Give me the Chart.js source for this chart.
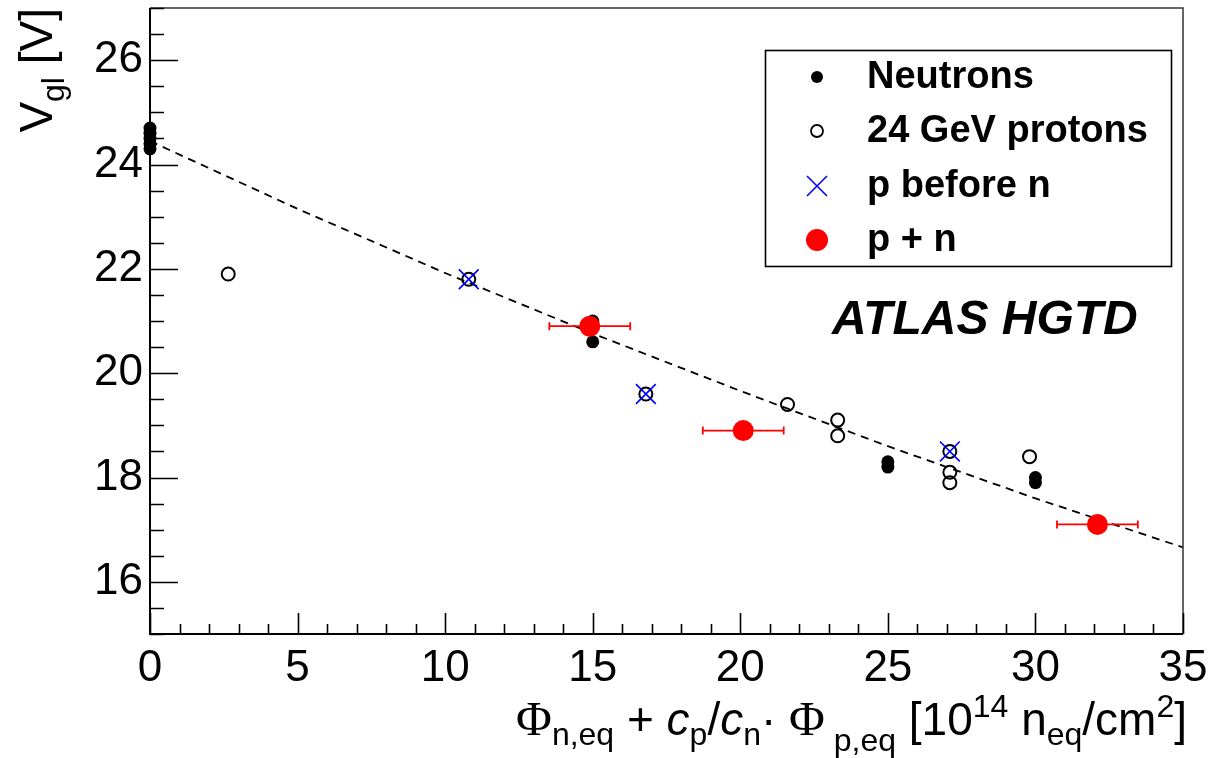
<!DOCTYPE html>
<html>
<head>
<meta charset="utf-8">
<script src="https://cdn.jsdelivr.net/npm/chart.js@4.4.1/dist/chart.umd.min.js"></script>
<style>
  html, body { margin: 0; padding: 0; background: #fff; }
  #wrap { width: 1215px; height: 758px; }
</style>
</head>
<body>
<div id="wrap"><canvas id="vglChart" width="1215" height="758"></canvas></div>
<script>
// Neutrons (filled black)
const neutronX = [0, 0, 0, 0, 0, 15, 15, 25, 25, 30, 30];
const neutronY = [24.3, 24.4, 24.5, 24.6, 24.7, 21.0, 20.6, 18.3, 18.2, 18.0, 17.9];
// 24 GeV protons (open circles)
const protonX = [2.65, 10.8, 16.8, 21.6, 23.3, 23.3, 27.1, 27.1, 27.1, 29.8];
const protonY = [21.9, 21.8, 19.6, 19.4, 19.1, 18.8, 18.5, 18.1, 17.9, 18.4];
// p before n (blue crosses)
const pBeforeNX = [10.8, 16.8, 27.1];
const pBeforeNY = [21.8, 19.6, 18.5];
// p + n (red, with x errors)
const pnX = [14.9, 20.1, 32.1];
const pnY = [20.9, 18.9, 17.1];
const pnXErr = [1.37, 1.37, 1.37];
// dashed fit curve
const fitX = [0, 5, 10, 15, 20, 25, 30, 35];
const fitY = [24.45, 23.15, 21.92, 20.76, 19.66, 18.6, 17.6, 16.66];
// tick labels
const xTicks = [0, 5, 10, 15, 20, 25, 30, 35];
const yTicks = [16, 18, 20, 22, 24, 26];

const SANS = '"Liberation Sans", Arial, Helvetica, sans-serif';
const SERIF = '"Liberation Serif", "Times New Roman", serif';

const toPoints = (xs, ys) => xs.map((x, i) => ({ x: x, y: ys[i] }));

// draws a run of text pieces with sub/superscripts
function drawRich(ctx, parts, x, y, align) {
    let total = 0;
    parts.forEach(p => {
        ctx.font = (p.style || '') + ' ' + p.size + 'px ' + (p.family || SANS);
        p.w = ctx.measureText(p.t).width;
        total += p.w;
    });
    let cx = align === 'right' ? x - total : x;
    parts.forEach(p => {
        ctx.font = (p.style || '') + ' ' + p.size + 'px ' + (p.family || SANS);
        ctx.fillText(p.t, cx, y + (p.dy || 0));
        cx += p.w;
    });
}

const frameAndTicks = {
    id: 'frameAndTicks',
    afterDraw(chart) {
        const { ctx, chartArea: a, scales } = chart;
        const xs = scales.x, ys = scales.y;
        ctx.save();
        // frame
        ctx.strokeStyle = '#333';
        ctx.lineWidth = 1.5;
        ctx.beginPath();
        ctx.moveTo(a.left, a.top);
        ctx.lineTo(a.right, a.top);
        ctx.lineTo(a.right, a.bottom);
        ctx.stroke();
        ctx.strokeStyle = '#000';
        ctx.lineWidth = 2;
        ctx.beginPath();
        ctx.moveTo(a.left, a.top);
        ctx.lineTo(a.left, a.bottom);
        ctx.lineTo(a.right, a.bottom);
        ctx.stroke();

        // inward ticks
        ctx.lineWidth = 1.6;
        ctx.beginPath();
        for (let v = xs.min; v <= xs.max + 1e-9; v += 1) {
            const px = Math.round(xs.getPixelForValue(v)) + 0.5;
            const len = v % 5 === 0 ? 21 : 10;
            ctx.moveTo(px, a.bottom);
            ctx.lineTo(px, a.bottom - len);
        }
        for (let v = ys.min; v <= ys.max + 1e-9; v += 0.5) {
            const py = Math.round(ys.getPixelForValue(v)) + 0.5;
            const len = yTicks.includes(v) ? 28 : 14;
            ctx.moveTo(a.left, py);
            ctx.lineTo(a.left + len, py);
        }
        ctx.stroke();

        // axis titles
        ctx.fillStyle = '#000';
        ctx.textBaseline = 'alphabetic';
        const M = 46, S = 32;
        drawRich(ctx, [
            { t: '\u03A6', size: M + 3, family: SERIF },
            { t: 'n,eq', size: S, dy: 10 },
            { t: ' + ', size: M },
            { t: 'c', size: M, style: 'italic' },
            { t: 'p', size: S, dy: 10 },
            { t: '/', size: M },
            { t: 'c', size: M, style: 'italic' },
            { t: 'n', size: S, dy: 10 },
            { t: '\u00B7 ', size: M },
            { t: '\u03A6', size: M + 3, family: SERIF },
            { t: ' p,eq', size: S, dy: 16 },
            { t: ' [10', size: M },
            { t: '14', size: S, dy: -18 },
            { t: ' n', size: M },
            { t: 'eq', size: S, dy: 10 },
            { t: '/cm', size: M },
            { t: '2', size: S, dy: -18 },
            { t: ']', size: M }
        ], 1187, 735, 'right');

        ctx.translate(52, 8);
        ctx.rotate(-Math.PI / 2);
        drawRich(ctx, [
            { t: 'V', size: 46 },
            { t: 'gl', size: 32, dy: 12 },
            { t: ' [V]', size: 46 }
        ], 0, 0, 'right');
        ctx.restore();

        // experiment label
        ctx.save();
        ctx.fillStyle = '#000';
        ctx.font = 'italic bold 48px ' + SANS;
        ctx.fillText('ATLAS HGTD', 832, 334);
        ctx.restore();

        // legend box
        ctx.save();
        ctx.strokeStyle = '#000';
        ctx.lineWidth = 1.6;
        ctx.strokeRect(765.5, 50.5, 406, 216);
        const rows = [
            { label: 'Neutrons', y: 77 },
            { label: '24 GeV protons', y: 131 },
            { label: 'p before n', y: 186 },
            { label: 'p + n', y: 240 }
        ];
        const mx = 817;
        // neutron dot
        ctx.fillStyle = '#000';
        ctx.beginPath(); ctx.arc(mx, rows[0].y, 6, 0, Math.PI * 2); ctx.fill();
        // open circle
        ctx.lineWidth = 1.8;
        ctx.beginPath(); ctx.arc(mx, rows[1].y, 6, 0, Math.PI * 2); ctx.stroke();
        // blue cross
        ctx.strokeStyle = '#0000ff';
        ctx.lineWidth = 1.6;
        ctx.beginPath();
        ctx.moveTo(mx - 10, rows[2].y - 10); ctx.lineTo(mx + 10, rows[2].y + 10);
        ctx.moveTo(mx - 10, rows[2].y + 10); ctx.lineTo(mx + 10, rows[2].y - 10);
        ctx.stroke();
        // red dot
        ctx.fillStyle = '#ff0000';
        ctx.beginPath(); ctx.arc(mx, rows[3].y, 11, 0, Math.PI * 2); ctx.fill();

        ctx.fillStyle = '#000';
        ctx.font = 'bold 38px ' + SANS;
        ctx.textBaseline = 'middle';
        rows.forEach(r => ctx.fillText(r.label, 867, r.y + 1));
        ctx.restore();
    }
};

const errorBars = {
    id: 'errorBars',
    beforeDatasetDraw(chart, args) {
        if (args.index !== 0) return;
        const { ctx, scales } = chart;
        ctx.save();
        ctx.strokeStyle = '#ff0000';
        ctx.lineWidth = 1.8;
        ctx.beginPath();
        pnX.forEach((x, i) => {
            const py = scales.y.getPixelForValue(pnY[i]);
            const x0 = scales.x.getPixelForValue(x - pnXErr[i]);
            const x1 = scales.x.getPixelForValue(x + pnXErr[i]);
            ctx.moveTo(x0, py); ctx.lineTo(x1, py);
            ctx.moveTo(x0, py - 4); ctx.lineTo(x0, py + 4);
            ctx.moveTo(x1, py - 4); ctx.lineTo(x1, py + 4);
        });
        ctx.stroke();
        ctx.restore();
    }
};

const ctx = document.getElementById('vglChart').getContext('2d');

new Chart(ctx, {
    type: 'scatter',
    data: {
        datasets: [
            {
                label: 'p + n',
                data: toPoints(pnX, pnY),
                pointStyle: 'circle',
                pointRadius: 10.5,
                backgroundColor: '#ff0000',
                borderWidth: 0
            },
            {
                label: 'p before n',
                data: toPoints(pBeforeNX, pBeforeNY),
                pointStyle: 'crossRot',
                pointRadius: 14,
                borderColor: '#0000ff',
                borderWidth: 1.6
            },
            {
                label: '24 GeV protons',
                data: toPoints(protonX, protonY),
                pointStyle: 'circle',
                pointRadius: 6.5,
                backgroundColor: 'rgba(0,0,0,0)',
                borderColor: '#000',
                borderWidth: 2
            },
            {
                label: 'Neutrons',
                data: toPoints(neutronX, neutronY),
                pointStyle: 'circle',
                pointRadius: 6.5,
                backgroundColor: '#000',
                borderWidth: 0,
                clip: false
            },
            {
                label: 'fit',
                data: toPoints(fitX, fitY),
                showLine: true,
                pointRadius: 0,
                borderColor: '#000',
                borderWidth: 1.8,
                borderDash: [8, 6],
                tension: 0,
                clip: false
            }
        ]
    },
    options: {
        responsive: false,
        animation: false,
        events: [],
        layout: { autoPadding: false, padding: { top: 8, right: 32, left: 0, bottom: 0 } },
        plugins: {
            legend: { display: false },
            tooltip: { enabled: false }
        },
        scales: {
            x: {
                type: 'linear',
                min: 0,
                max: 35,
                grid: { display: false, drawTicks: false },
                border: { display: false },
                afterBuildTicks: s => { s.ticks = xTicks.map(v => ({ value: v })); },
                afterFit: s => { s.height = 124; s.paddingLeft = 0; s.paddingRight = 0; },
                ticks: {
                    color: '#000',
                    padding: 8,
                    maxRotation: 0,
                    autoSkip: false,
                    font: { family: SANS, size: 44 }
                }
            },
            y: {
                type: 'linear',
                min: 15,
                max: 27,
                grid: { display: false, drawTicks: false },
                border: { display: false },
                afterBuildTicks: s => { s.ticks = yTicks.map(v => ({ value: v })); },
                afterFit: s => { s.width = 150; s.paddingTop = 0; s.paddingBottom = 0; },
                ticks: {
                    color: '#000',
                    padding: 7,
                    autoSkip: false,
                    font: { family: SANS, size: 44 }
                }
            }
        }
    },
    plugins: [errorBars, frameAndTicks]
});
</script>
</body>
</html>
